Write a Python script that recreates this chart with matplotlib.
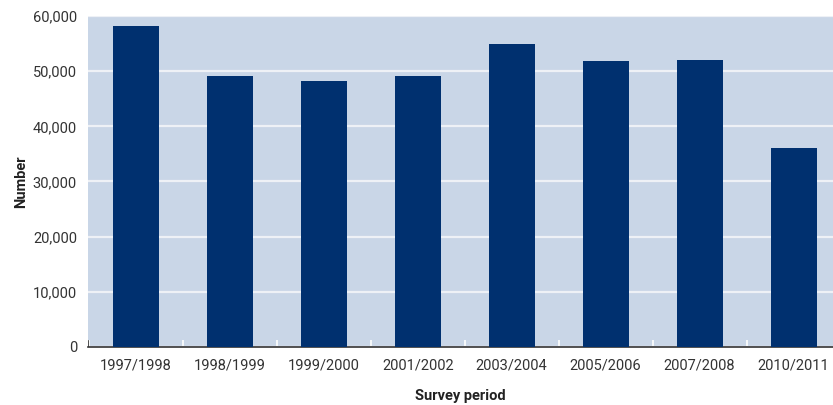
import matplotlib
matplotlib.use("Agg")
import matplotlib.pyplot as plt
from matplotlib.ticker import FuncFormatter
import numpy as np

periods = ["1997/1998", "1998/1999", "1999/2000", "2001/2002",
           "2003/2004", "2005/2006", "2007/2008", "2010/2011"]
numbers = [58200, 49100, 48200, 49100, 54900, 51800, 52000, 36100]

plt.rcParams['font.family'] = ['Roboto', 'DejaVu Sans']

fig = plt.figure(figsize=(8.33, 4.05), dpi=100)
ax = fig.add_axes([88/833, 58/405, 745/833, 331/405])
ax.set_facecolor("#c9d6e7")

x = np.arange(len(periods))
ax.bar(x, numbers, width=0.49, color="#00306f", zorder=3)

ax.set_ylim(0, 60000)
ax.set_yticks(np.arange(0, 60001, 10000))
ax.yaxis.set_major_formatter(FuncFormatter(lambda v, p: f"{int(v):,}"))
ax.grid(axis="y", color="#eef1f6", linewidth=1.6, zorder=1)
ax.set_axisbelow(True)

ax.set_xlim(-0.51, 7.42)
ax.set_xticks(x)
ax.set_xticklabels(periods)
ax.set_xticks(np.arange(-0.5, 7.5, 1), minor=True)
ax.tick_params(axis="x", which="major", length=0, pad=8)
ax.tick_params(axis="x", which="minor", direction="in", length=5, color="white", width=1.2)
ax.tick_params(axis="y", length=0, pad=8)
ax.tick_params(labelsize=10.5, labelcolor="#333333")

for s in ["top", "right", "left"]:
    ax.spines[s].set_visible(False)
ax.spines["bottom"].set_color("#333333")
ax.spines["bottom"].set_linewidth(1.2)
ax.axvline(-0.51, ymin=0, ymax=0.018, color="#333333", linewidth=1.2)

ax.set_xlabel("Survey period", fontsize=10.5, fontweight="bold", color="#222222", labelpad=12)
ax.set_ylabel("Number", fontsize=10.5, fontweight="bold", color="#222222", labelpad=3)

fig.savefig("out.png", dpi=100)
